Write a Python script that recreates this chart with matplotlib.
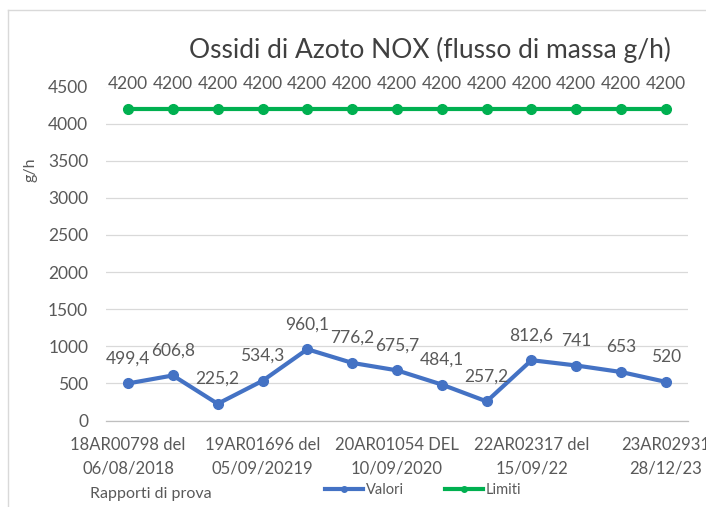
import matplotlib
matplotlib.use("Agg")
import matplotlib.pyplot as plt
from matplotlib.lines import Line2D

plt.rcParams['font.family'] = ['Lato', 'DejaVu Sans']

# ---- data ----
valori = [499.4, 606.8, 225.2, 534.3, 960.1, 776.2, 675.7, 484.1, 257.2, 812.6, 741, 653, 520]
limiti = [4200] * 13
valori_labels = ["499,4", "606,8", "225,2", "534,3", "960,1", "776,2", "675,7",
                 "484,1", "257,2", "812,6", "741", "653", "520"]
limiti_labels = ["4200"] * 13
tick_index = [0, 3, 6, 9, 12]
tick_labels = ["18AR00798 del\n06/08/2018", "19AR01696 del\n05/09/20219",
               "20AR01054 DEL\n10/09/2020", "22AR02317 del\n15/09/22",
               "23AR02931\n28/12/23"]
y_ticks = [0, 500, 1000, 1500, 2000, 2500, 3000, 3500, 4000, 4500]

BLUE = "#4472C4"
GREEN = "#00B050"
TXT = "#595959"

W, H = 706, 507
fig = plt.figure(figsize=(W / 100, H / 100), dpi=100)
left, right, bottom, top = 105.6, 688.4, 420.5, 86.5
ax = fig.add_axes([left / W, (H - bottom) / H, (right - left) / W, (bottom - top) / H])

x = list(range(len(valori)))
ax.plot(x, limiti, color=GREEN, lw=3, marker='o', ms=7, zorder=3)
ax.plot(x, valori, color=BLUE, lw=3, marker='o', ms=7, zorder=3)

for xi, v, s in zip(x, valori, valori_labels):
    ax.annotate(s, (xi, v), xytext=(0, 18), textcoords='offset points',
                ha='center', va='center', fontsize=12.5, color=TXT)
for xi, v, s in zip(x, limiti, limiti_labels):
    ax.annotate(s, (xi, v), xytext=(0, 18), textcoords='offset points',
                ha='center', va='center', fontsize=12.5, color=TXT)

ax.set_xlim(-0.5, len(valori) - 0.5)
ax.set_ylim(0, 4500)
ax.set_yticks(y_ticks)
ax.set_yticklabels([str(t) for t in y_ticks])
ax.set_xticks(tick_index)
ax.set_xticklabels(tick_labels, linespacing=1.6)
ax.tick_params(axis='both', length=0, labelsize=12.5, labelcolor=TXT)
ax.tick_params(axis='x', labelsize=12, pad=12)
ax.tick_params(axis='y', pad=12.5)
ax.grid(axis='y', color="#d9d9d9", lw=0.9)
ax.set_axisbelow(True)
for sp in ['top', 'right', 'left']:
    ax.spines[sp].set_visible(False)
ax.spines['bottom'].set_color("#bfbfbf")
ax.spines['bottom'].set_linewidth(0.9)

ax.set_ylabel("g/h", fontsize=11.5, color=TXT)
ax.yaxis.set_label_coords((37 - left) / (right - left), (bottom - 170) / (bottom - top))

fig.text(430 / W, (H - 50) / H, "Ossidi di Azoto NOX (flusso di massa g/h)",
         ha='center', va='center', fontsize=19, color="#404040")
fig.text(90 / W, (H - 494) / H, "Rapporti di prova", ha='left', va='center',
         fontsize=11.5, color=TXT)

handles = [Line2D([0], [0], color=BLUE, lw=3, marker='o', ms=4),
           Line2D([0], [0], color=GREEN, lw=3, marker='o', ms=4)]
fig.legend(handles, ["Valori", "Limiti"], loc='center', bbox_to_anchor=(423 / W, (H - 490) / H),
           ncol=2, frameon=False, fontsize=10.5, labelcolor=TXT, handlelength=2.6,
           handletextpad=0.2, columnspacing=2.8)

# chart border (screenshot frame)
fig.add_artist(Line2D([8 / W, 8 / W], [0, (H - 10) / H], color="#d9d9d9", lw=1))
fig.add_artist(Line2D([8 / W, 1], [(H - 10) / H, (H - 10) / H], color="#d9d9d9", lw=1))

fig.savefig("out.png", dpi=100)
